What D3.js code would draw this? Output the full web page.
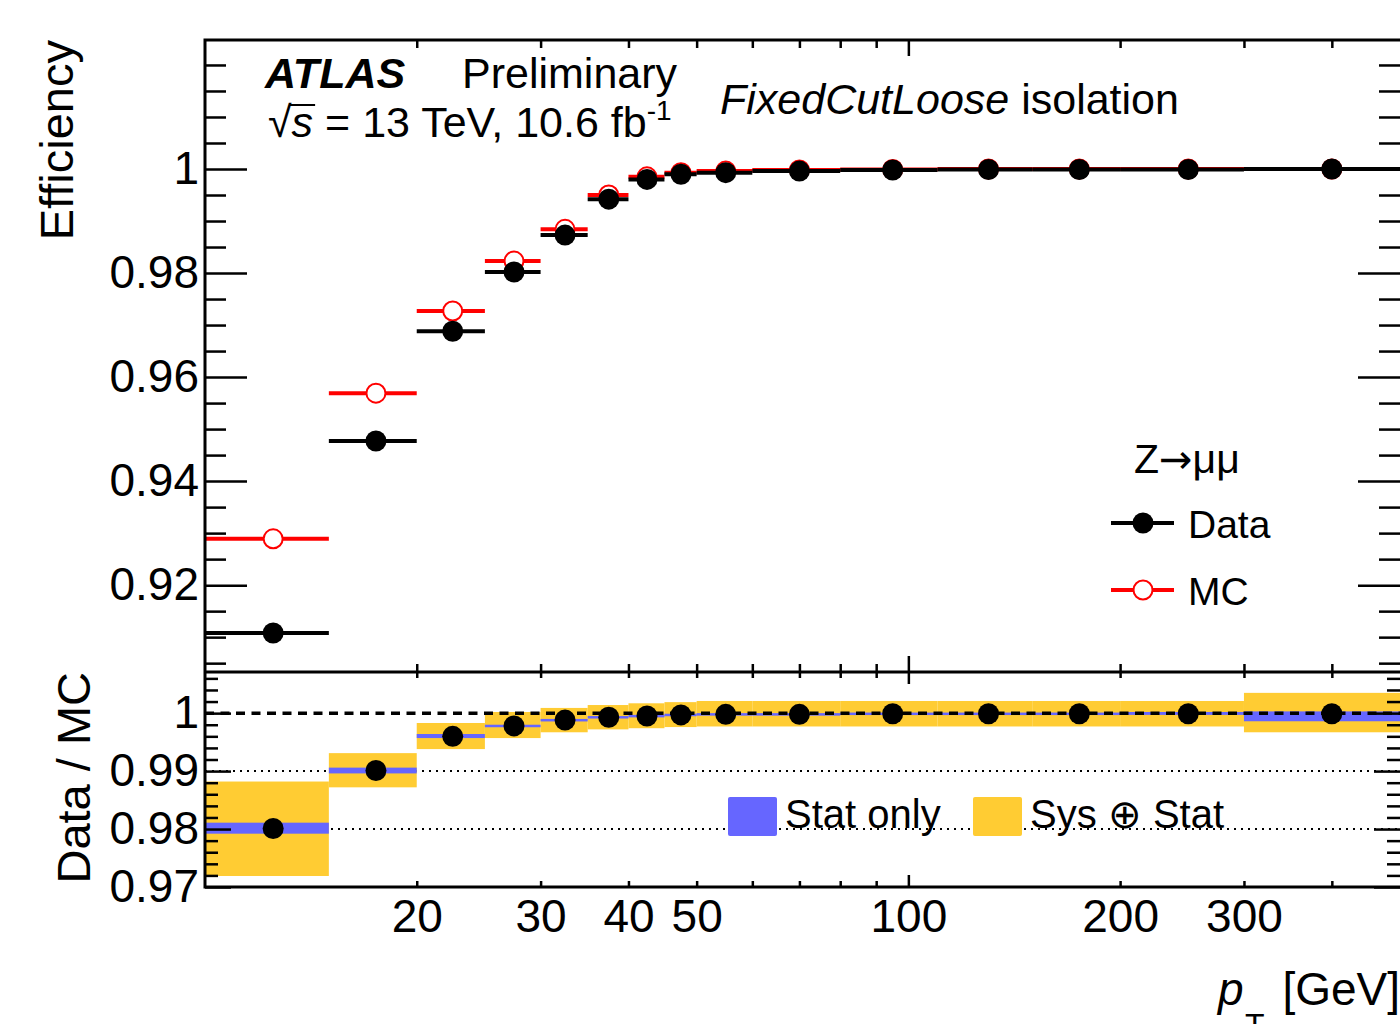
<!DOCTYPE html>
<html>
<head>
<meta charset="utf-8">
<script src="https://cdn.jsdelivr.net/npm/d3@7"></script>
<style>
body { margin: 0; background: #fff; }
text { font-family: "Liberation Sans", Arial, Helvetica, sans-serif; fill: #000; }
</style>
</head>
<body>
<div id="chart"></div>
<script>
// Muon isolation efficiency (FixedCutLoose) vs pT from Z->mumu tag and probe
var binEdges = [10, 15, 20, 25, 30, 35, 40, 45, 50, 60, 80, 110, 150, 200, 300, 500];
var binCenters = [12.5, 17.5, 22.5, 27.5, 32.5, 37.5, 42.5, 47.5, 55, 70, 95, 130, 175, 250, 400];

var effData = [0.9108, 0.9477, 0.9688, 0.9802, 0.9873, 0.9942, 0.9980, 0.9990, 0.9993, 0.9996, 0.9998, 0.9999, 0.9999, 0.9999, 1.0000];
var effMC   = [0.9289, 0.9569, 0.9727, 0.9823, 0.9884, 0.9950, 0.9985, 0.9993, 0.9996, 0.9998, 0.9999, 1.0000, 1.0000, 1.0000, 1.0000];

// scale factor Data/MC with its uncertainty bands
var ratio  = [0.9801, 0.9901, 0.9960, 0.9978, 0.9988, 0.9993, 0.9995, 0.9997, 0.9998, 0.9998, 0.9999, 0.9999, 0.9999, 0.9999, 0.9999];
var statLo = [0.9792, 0.9896, 0.9957, 0.9976, 0.9986, 0.9991, 0.9993, 0.9995, 0.9996, 0.9996, 0.9997, 0.9997, 0.9997, 0.9997, 0.9986];
var statHi = [0.9811, 0.9906, 0.9964, 0.9980, 0.9990, 0.9995, 0.9997, 0.9999, 1.0000, 1.0000, 1.0001, 1.0001, 1.0001, 1.0002, 1.0003];
var sysLo  = [0.9719, 0.9872, 0.9938, 0.9957, 0.9967, 0.9972, 0.9974, 0.9976, 0.9977, 0.9977, 0.9977, 0.9977, 0.9977, 0.9977, 0.9967];
var sysHi  = [0.9882, 0.9931, 0.9983, 1.0002, 1.0009, 1.0014, 1.0017, 1.0019, 1.0021, 1.0021, 1.0021, 1.0021, 1.0021, 1.0021, 1.0035];

var xTicks = [20, 30, 40, 50, 60, 70, 80, 90, 100, 200, 300, 400];
var xTickLabels = [20, 30, 40, 50, 100, 200, 300];
var effTicks = [0.92, 0.94, 0.96, 0.98, 1];
var ratioTicks = [0.97, 0.98, 0.99, 1];

var svgWidth = 1400;
var svgHeight = 1024;

var frame = { left: 205, right: 1400, top: 40, split: 672, bottom: 887 };

var svg = d3.select("#chart")
    .append("svg")
    .attr("width", svgWidth)
    .attr("height", svgHeight);

var x = d3.scaleLog()
    .domain([10, 500])
    .range([frame.left, frame.right]);

var yEff = d3.scaleLinear()
    .domain([0.9033, 1.0248])
    .range([frame.split, frame.top]);

var yRatio = d3.scaleLinear()
    .domain([0.97, 1.0071])
    .range([frame.bottom, frame.split]);

var bins = binCenters.map(function(c, i) {
    return { lo: binEdges[i], hi: binEdges[i + 1], c: c };
});

var fmt = function(d) { return d === 1 ? "1" : d.toFixed(2); };

// ---------- lower panel: ratio ----------
var lower = svg.append("g");

// reference lines at 0.98 and 0.99
lower.selectAll(".refline")
    .data([0.98, 0.99])
    .enter()
    .append("line")
    .attr("x1", frame.left)
    .attr("x2", frame.right)
    .attr("y1", d => yRatio(d))
    .attr("y2", d => yRatio(d))
    .attr("stroke", "#000")
    .attr("stroke-width", 2)
    .attr("stroke-dasharray", "2,5");

// sys (+) stat band
lower.selectAll(".sys")
    .data(bins)
    .enter()
    .append("rect")
    .attr("x", d => x(d.lo))
    .attr("width", d => x(d.hi) - x(d.lo))
    .attr("y", (d, i) => yRatio(sysHi[i]))
    .attr("height", (d, i) => yRatio(sysLo[i]) - yRatio(sysHi[i]))
    .attr("fill", "#ffcc33");

// stat only band
lower.selectAll(".stat")
    .data(bins)
    .enter()
    .append("rect")
    .attr("x", d => x(d.lo))
    .attr("width", d => x(d.hi) - x(d.lo))
    .attr("y", (d, i) => yRatio(statHi[i]))
    .attr("height", (d, i) => Math.max(2.5, yRatio(statLo[i]) - yRatio(statHi[i])))
    .attr("fill", "#6666ff");

// unity line
lower.append("line")
    .attr("x1", frame.left)
    .attr("x2", frame.right)
    .attr("y1", yRatio(1))
    .attr("y2", yRatio(1))
    .attr("stroke", "#000")
    .attr("stroke-width", 3.5)
    .attr("stroke-dasharray", "9,6.5");

lower.selectAll(".rpoint")
    .data(bins)
    .enter()
    .append("circle")
    .attr("cx", d => x(d.c))
    .attr("cy", (d, i) => yRatio(ratio[i]))
    .attr("r", 10.5)
    .attr("fill", "#000");

// ---------- upper panel: efficiencies ----------
var upper = svg.append("g");

upper.selectAll(".mcbar")
    .data(bins)
    .enter()
    .append("line")
    .attr("x1", d => x(d.lo))
    .attr("x2", d => x(d.hi))
    .attr("y1", (d, i) => yEff(effMC[i]))
    .attr("y2", (d, i) => yEff(effMC[i]))
    .attr("stroke", "#ff0000")
    .attr("stroke-width", 4);

upper.selectAll(".mcpoint")
    .data(bins)
    .enter()
    .append("circle")
    .attr("cx", d => x(d.c))
    .attr("cy", (d, i) => yEff(effMC[i]))
    .attr("r", 9.5)
    .attr("fill", "#fff")
    .attr("stroke", "#ff0000")
    .attr("stroke-width", 2);

upper.selectAll(".databar")
    .data(bins)
    .enter()
    .append("line")
    .attr("x1", d => x(d.lo))
    .attr("x2", d => x(d.hi))
    .attr("y1", (d, i) => yEff(effData[i]))
    .attr("y2", (d, i) => yEff(effData[i]))
    .attr("stroke", "#000")
    .attr("stroke-width", 4);

upper.selectAll(".datapoint")
    .data(bins)
    .enter()
    .append("circle")
    .attr("cx", d => x(d.c))
    .attr("cy", (d, i) => yEff(effData[i]))
    .attr("r", 10.5)
    .attr("fill", "#000");

// ---------- frames and ticks ----------
function addXTicks(yPos, dir, minorLen, majorLen, labelled) {
    // dir = +1 ticks point down, -1 ticks point up
    var axis = (dir > 0 ? d3.axisTop(x) : d3.axisBottom(x))
        .tickValues(xTicks)
        .tickSize(-minorLen)
        .tickPadding(12)
        .tickFormat(d => (labelled && xTickLabels.indexOf(d) >= 0) ? d : "");
    var g = svg.append("g")
        .attr("transform", `translate(0, ${yPos})`)
        .call(axis)
        .attr("font-size", 46)
        .attr("font-family", null);
    g.select(".domain").remove();
    g.selectAll(".tick line")
        .attr("y2", d => dir * (d === 100 ? majorLen : minorLen))
        .attr("stroke-width", 2.5);
}

function addYTicks(scale, xPos, side, major, minor, majorLen, minorLen, labelled) {
    var make = side === "left" ? d3.axisLeft : d3.axisRight;
    var gMinor = svg.append("g")
        .attr("transform", `translate(${xPos}, 0)`)
        .call(make(scale).tickValues(minor).tickSize(-minorLen).tickFormat(""));
    gMinor.select(".domain").remove();
    gMinor.selectAll(".tick line").attr("stroke-width", 2.5);

    var gMajor = svg.append("g")
        .attr("transform", `translate(${xPos}, 0)`)
        .call(make(scale).tickValues(major).tickSize(-majorLen).tickPadding(6)
            .tickFormat(labelled ? fmt : ""))
        .attr("font-size", 46)
        .attr("font-family", null);
    gMajor.select(".domain").remove();
    gMajor.selectAll(".tick line").attr("stroke-width", 2.5);
}

var effMinor = d3.range(0.905, 1.024, 0.005).filter(v => effTicks.every(t => Math.abs(t - v) > 1e-6));
var ratioMinor = d3.range(0.972, 1.0065, 0.002).filter(v => ratioTicks.every(t => Math.abs(t - v) > 1e-6));

addYTicks(yEff, frame.left, "left", effTicks, effMinor, 42, 21, true);
addYTicks(yEff, frame.right, "right", effTicks, effMinor, 42, 21, false);
addYTicks(yRatio, frame.left, "left", ratioTicks, ratioMinor, 26, 13, true);
addYTicks(yRatio, frame.right, "right", ratioTicks, ratioMinor, 26, 13, false);

addXTicks(frame.top, 1, 8, 16, false);
addXTicks(frame.split, -1, 8, 16, false);
addXTicks(frame.split, 1, 6, 12, false);
addXTicks(frame.bottom, -1, 6, 12, true);

svg.append("rect")
    .attr("x", frame.left)
    .attr("y", frame.top)
    .attr("width", frame.right + 2 - frame.left)
    .attr("height", frame.bottom - frame.top)
    .attr("fill", "none")
    .attr("stroke", "#000")
    .attr("stroke-width", 3);

svg.append("line")
    .attr("x1", frame.left)
    .attr("x2", frame.right)
    .attr("y1", frame.split)
    .attr("y2", frame.split)
    .attr("stroke", "#000")
    .attr("stroke-width", 3);

// ---------- axis titles ----------
svg.append("text")
    .attr("transform", "translate(73, 40) rotate(-90)")
    .attr("text-anchor", "end")
    .attr("font-size", 47)
    .text("Efficiency");

svg.append("text")
    .attr("transform", `translate(90, ${frame.split}) rotate(-90)`)
    .attr("text-anchor", "end")
    .attr("font-size", 47)
    .text("Data / MC");

svg.append("text")
    .attr("x", 1218)
    .attr("y", 1005)
    .attr("font-size", 46)
    .attr("font-style", "italic")
    .text("p");
svg.append("text")
    .attr("x", 1245)
    .attr("y", 1036)
    .attr("font-size", 32)
    .text("T");
svg.append("text")
    .attr("x", 1400)
    .attr("y", 1005)
    .attr("text-anchor", "end")
    .attr("font-size", 46)
    .text("[GeV]");

// ---------- labels ----------
svg.append("text")
    .attr("x", 265)
    .attr("y", 88)
    .attr("font-size", 43)
    .attr("font-weight", "bold")
    .attr("font-style", "italic")
    .text("ATLAS");
svg.append("text")
    .attr("x", 462)
    .attr("y", 88)
    .attr("font-size", 43)
    .text("Preliminary");

var sqrtSign = svg.append("text")
    .attr("x", 268)
    .attr("y", 137)
    .attr("font-size", 43)
    .text("\u221A");
var sqrtW = sqrtSign.node().getComputedTextLength();
var sVar = svg.append("text")
    .attr("x", 268 + sqrtW)
    .attr("y", 137)
    .attr("font-size", 43)
    .attr("font-style", "italic")
    .text("s");
var sW = sVar.node().getComputedTextLength();
svg.append("line")
    .attr("x1", 268 + sqrtW - 2)
    .attr("x2", 268 + sqrtW + sW + 2)
    .attr("y1", 105)
    .attr("y2", 105)
    .attr("stroke", "#000")
    .attr("stroke-width", 2);
var lumi = svg.append("text")
    .attr("x", 268 + sqrtW + sW + 12)
    .attr("y", 137)
    .attr("font-size", 43);
lumi.append("tspan").text("= 13 TeV, 10.6 fb");
lumi.append("tspan")
    .attr("font-size", 28)
    .attr("dy", -17)
    .text("-1");

var iso = svg.append("text")
    .attr("x", 720)
    .attr("y", 114)
    .attr("font-size", 43);
iso.append("tspan").attr("font-style", "italic").text("FixedCutLoose");
iso.append("tspan").text(" isolation");

// ---------- legends ----------
var zLabel = svg.append("text")
    .attr("x", 1134)
    .attr("y", 473)
    .attr("font-size", 41);
zLabel.append("tspan").text("Z");
zLabel.append("tspan").style("font-family", "'DejaVu Sans'").attr("font-size", 40).text("\u2192");
zLabel.append("tspan").text("\u03BC\u03BC");

var legendItems = [
    { label: "Data", y: 523, color: "#000", open: false },
    { label: "MC", y: 590, color: "#ff0000", open: true }
];

var leg = svg.selectAll(".leg")
    .data(legendItems)
    .enter()
    .append("g");

leg.append("line")
    .attr("x1", 1111)
    .attr("x2", 1174)
    .attr("y1", d => d.y)
    .attr("y2", d => d.y)
    .attr("stroke", d => d.color)
    .attr("stroke-width", 4);

leg.append("circle")
    .attr("cx", 1143)
    .attr("cy", d => d.y)
    .attr("r", d => d.open ? 9.5 : 10.5)
    .attr("fill", d => d.open ? "#fff" : d.color)
    .attr("stroke", d => d.open ? d.color : "none")
    .attr("stroke-width", 2);

leg.append("text")
    .attr("x", 1188)
    .attr("y", d => d.y + 15)
    .attr("font-size", 39)
    .text(d => d.label);

var bandLegend = [
    { label: "Stat only", x: 728, color: "#6666ff" },
    { label: "Sys \u2295 Stat", x: 973, color: "#ffcc33" }
];

var bleg = svg.selectAll(".bleg")
    .data(bandLegend)
    .enter()
    .append("g");

bleg.append("rect")
    .attr("x", d => d.x)
    .attr("y", 797)
    .attr("width", 49)
    .attr("height", 39)
    .attr("rx", 2)
    .attr("fill", d => d.color);

bleg.append("text")
    .attr("x", d => d.x + 57)
    .attr("y", 828)
    .attr("font-size", 40)
    .text(d => d.label);
</script>
</body>
</html>
